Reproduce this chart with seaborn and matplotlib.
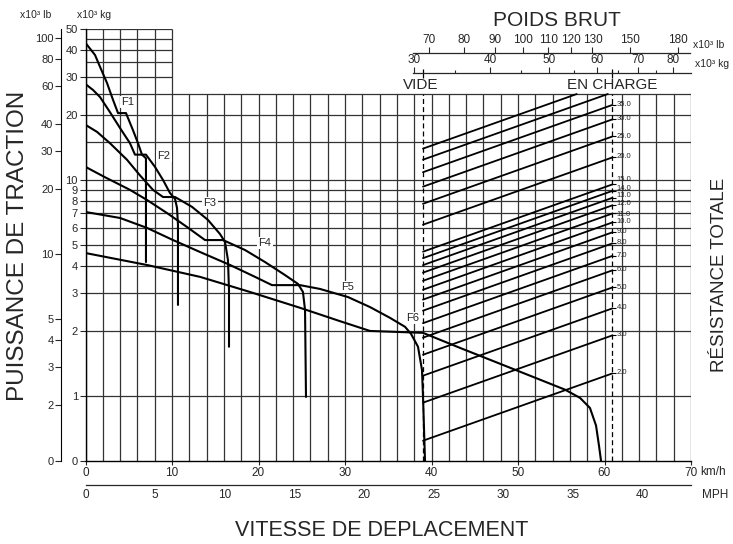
import numpy as np
import matplotlib
matplotlib.use("Agg")
import matplotlib.pyplot as plt
from matplotlib.ticker import FixedLocator, NullLocator, NullFormatter
import seaborn as sns

# ---- traction curves (speed km/h, rimpull x10^3 kg) ----
f1_speed = [0, 1.10, 1.68, 2.49, 3.18, 3.76, 4.68, 5.49, 6.07, 6.53, 6.99, 6.99]
f1_force = [43.1, 37.9, 33.4, 28.1, 23.5, 20.4, 20.4, 17.0, 14.8, 13.1, 12.6, 4.17]
f2_speed = [0, 0.87, 1.68, 2.83, 3.99, 5.14, 5.72, 6.99, 8.03, 8.96, 9.77, 10.35, 10.58, 10.69, 10.69]
f2_force = [27.8, 26.1, 24.2, 20.6, 17.4, 14.8, 13.1, 13.1, 11.5, 10.0, 8.7, 8.17, 7.43, 6.19, 2.64]
f3_speed = [0, 1.33, 2.83, 4.80, 6.30, 7.80, 8.96, 10.35, 12.31, 14.16, 15.55, 16.13, 16.47, 16.59, 16.59]
f3_force = [18.0, 16.7, 14.8, 12.4, 10.5, 9.0, 8.34, 8.34, 7.51, 6.53, 5.62, 5.16, 4.26, 3.09, 1.69]
f4_speed = [0, 2.25, 5.14, 7.11, 9.42, 11.73, 13.82, 15.90, 18.44, 20.75, 23.06, 24.57, 25.14, 25.38, 25.49]
f4_force = [11.5, 10.3, 9.0, 8.08, 7.03, 6.06, 5.27, 5.27, 4.74, 4.17, 3.63, 3.30, 3.03, 2.50, 0.99]
f5_speed = [0, 3.99, 7.11, 10.12, 13.24, 16.71, 19.60, 21.56, 24.80, 27.11, 30.35, 32.89, 35.20,
            36.94, 37.63, 38.44, 38.90, 39.02, 39.25]
f5_force = [7.11, 6.67, 6.00, 5.27, 4.64, 4.04, 3.56, 3.26, 3.26, 3.13, 2.87, 2.58, 2.30,
            2.09, 1.94, 1.69, 1.32, 0.99, 0.50]
f6_speed = [0, 7.11, 13.24, 19.02, 24.80, 29.42, 32.89, 39.02, 43.29, 47.92, 52.54, 55.43,
            57.17, 58.32, 59.02, 59.36, 59.60]
f6_force = [4.59, 4.04, 3.56, 3.03, 2.56, 2.22, 2.00, 1.96, 1.67, 1.41, 1.19, 1.07,
            0.98, 0.88, 0.73, 0.59, 0.50]

gear_names = ["F1", "F2", "F3", "F4", "F5", "F6"]
label_speed = [4.91, 9.08, 14.39, 20.75, 30.35, 37.86]
label_force = [23.0, 12.9, 7.82, 5.11, 3.20, 2.30]

# ---- total resistance nomogram ----
grades = [2, 3, 4, 5, 6, 7, 8, 9, 10, 11, 12, 13, 14, 15, 20, 25, 30, 35, 40, 45]
labelled_grades = [2, 3, 4, 5, 6, 7, 8, 9, 10, 11, 12, 13, 14, 15, 20, 25, 30, 35]
weight_empty = 31.04    # x10^3 kg (VIDE)
weight_loaded = 63.6    # x10^3 kg (EN CHARGE)
# small vertical nudges (points) of the crowded grade labels
label_nudge = {15: 3.5, 14: 1.6, 13: 1.2, 12: 0.8, 11: -0.8, 10: 0.6}

# axis scales
kg_ticks = [0.5, 1, 2, 3, 4, 5, 6, 7, 8, 9, 10, 20, 30, 40, 50]
kg_labels = ["0", "1", "2", "3", "4", "5", "6", "7", "8", "9", "10", "20", "30", "40", "50"]
lb_ticks = [0.5 * 2.20462, 2, 3, 4, 5, 10, 20, 30, 40, 60, 80, 100]
lb_labels = ["0", "2", "3", "4", "5", "10", "20", "30", "40", "60", "80", "100"]
top_kg_ticks = [30, 40, 50, 60, 70, 80]
top_kg_minor = [35, 45, 55, 65, 75]
top_lb_ticks = [70, 80, 90, 100, 110, 120, 130, 150, 180]
mph_ticks = [0, 5, 10, 15, 20, 25, 30, 35, 40]
kmh_ticks = [0, 10, 20, 30, 40, 50, 60, 70]

speed_grid = np.arange(0, 72, 2)
force_grid_main = [1, 2, 3, 4, 5, 6, 7, 8, 9, 10, 15, 20, 25]
force_grid_upper = [30, 35, 40, 45, 50]

# weight scale limits matching the speed axis (log scale)
W0, W1 = 8.647, 85.64

sns.set_style("white")
plt.rcParams["font.family"] = ["Liberation Sans", "DejaVu Sans"]

FW, FH = 733, 544
fig = plt.figure(figsize=(7.33, 5.44), dpi=100)
L, B, W, H = 85.5 / FW, 83 / FH, 605.5 / FW, 432 / FH

ax = fig.add_axes([L, B, W, H])
ax.set_yscale("log")
ax.set_xlim(0, 70)
ax.set_ylim(0.5, 50)

gc = "#333333"
ax.vlines(speed_grid, 0.5, 25, color=gc, lw=0.9)
ax.vlines(speed_grid[speed_grid <= 10], 25, 50, color=gc, lw=0.9)
ax.hlines(force_grid_main, 0, 70, color=gc, lw=0.9)
ax.hlines(force_grid_upper, 0, 10, color=gc, lw=0.9)

curves = [(f1_speed, f1_force), (f2_speed, f2_force), (f3_speed, f3_force),
          (f4_speed, f4_force), (f5_speed, f5_force), (f6_speed, f6_force)]
for sp, fo in curves:
    sns.lineplot(x=sp, y=fo, sort=False, estimator=None, ax=ax, color="black", lw=1.5)

for name, xs, ys in zip(gear_names, label_speed, label_force):
    ax.text(xs, ys, name, fontsize=8, ha="center", va="center",
            bbox=dict(facecolor="white", edgecolor="none", pad=0.8))

ax.spines[["top", "right"]].set_visible(False)
for s in ["left", "bottom"]:
    ax.spines[s].set_color("black")
    ax.spines[s].set_linewidth(1.0)
ax.yaxis.set_major_locator(FixedLocator(kg_ticks))
ax.set_yticklabels(kg_labels)
ax.yaxis.set_minor_locator(NullLocator())
ax.set_xticks(kmh_ticks)
ax.set_xticklabels([str(v) for v in kmh_ticks])
ax.tick_params(axis="y", length=4, width=0.8, labelsize=8, pad=1.5, left=True)
ax.tick_params(axis="x", length=3, width=0.8, labelsize=8.5, pad=1.5, bottom=True)
ax.set_xlabel("")
ax.set_ylabel("")

# lb scale on the left
ax_lb = ax.twinx()
ax_lb.set_yscale("log")
ax_lb.set_ylim(0.5 * 2.20462, 50 * 2.20462)
ax_lb.yaxis.tick_left()
ax_lb.spines[["right", "top", "bottom"]].set_visible(False)
ax_lb.spines["left"].set_position(("outward", 17.6))
ax_lb.spines["left"].set_color("black")
ax_lb.yaxis.set_major_locator(FixedLocator(lb_ticks))
ax_lb.set_yticklabels(lb_labels)
ax_lb.yaxis.set_minor_locator(NullLocator())
ax_lb.tick_params(axis="y", length=4, width=0.8, labelsize=8, pad=1.5, left=True, right=False)

# grade lines overlay (log weight vs log resistance)
ax_g = fig.add_axes([L, B, W, H])
ax_g.set_xscale("log")
ax_g.set_yscale("log")
ax_g.set_xlim(W0, W1)
ax_g.set_ylim(0.5, 50)
ax_g.axis("off")
ax_g.patch.set_visible(False)
for g in grades:
    w_end = min(weight_loaded, 25 * 100 / g)
    wx = [weight_empty, w_end]
    ry = [g / 100 * weight_empty, g / 100 * w_end]
    sns.lineplot(x=wx, y=ry, ax=ax_g, color="black", lw=1.3, estimator=None, sort=False)
ax_g.vlines([weight_empty, weight_loaded], 0.5, 25, colors="black", lw=0.9,
            linestyles=(0, (4, 2.5)))
ax_g.vlines([weight_empty, weight_loaded], 29.7, 32.6, colors="black", lw=0.9)
for g in labelled_grades:
    r = g / 100 * weight_loaded
    ax_g.plot([weight_loaded], [r], ls="none", marker=1, ms=3, mew=0.8, color="black")
    ax_g.annotate(f"{g:.1f}", (weight_loaded, r), xytext=(3, 0.3 + label_nudge.get(g, 0)),
                  textcoords="offset points", fontsize=5.5, ha="left", va="center",
                  annotation_clip=False)
ax_g.text(weight_empty * 0.99, 27.6, "VIDE", fontsize=11, ha="center", va="center")
ax_g.text(weight_loaded, 27.6, "EN CHARGE", fontsize=11, ha="center", va="center")

# top weight scales
def weight_axis(ypix, lo, hi, ticks, bounds, minor=None):
    a = fig.add_axes([L, 1 - ypix / FH, W, 1e-6])
    a.set_xscale("log")
    a.set_xlim(lo, hi)
    a.patch.set_visible(False)
    a.spines[["left", "right", "bottom"]].set_visible(False)
    a.spines["top"].set_bounds(*bounds)
    a.spines["top"].set_linewidth(0.9)
    a.set_yticks([])
    a.xaxis.tick_top()
    a.xaxis.set_major_locator(FixedLocator(ticks))
    a.set_xticklabels([str(t) for t in ticks])
    a.xaxis.set_minor_locator(FixedLocator(minor) if minor else NullLocator())
    a.xaxis.set_minor_formatter(NullFormatter())
    a.tick_params(axis="x", which="major", length=4, width=0.8, labelsize=8.5, pad=1)
    a.tick_params(axis="x", which="minor", length=2, width=0.8)
    return a

weight_axis(73, W0, W1, top_kg_ticks, (29.9, 85.6), top_kg_minor)
weight_axis(53.3, W0 * 2.20462, W1 * 2.20462, top_lb_ticks, (66, 188))

# MPH scale
ax_mph = fig.add_axes([L, 1 - 485 / FH, W, 1e-6])
ax_mph.set_xlim(0, 70 / 1.609344)
ax_mph.patch.set_visible(False)
ax_mph.spines[["left", "right", "top"]].set_visible(False)
ax_mph.spines["bottom"].set_linewidth(0.9)
ax_mph.set_yticks([])
ax_mph.set_xticks(mph_ticks)
ax_mph.set_xticklabels([str(t) for t in mph_ticks])
ax_mph.tick_params(axis="x", direction="in", length=4, width=0.8, labelsize=8.5, pad=3)

# texts
fig.text(700 / FW, 1 - 472 / FH, "km/h", fontsize=8.5, ha="left", va="center")
fig.text(702 / FW, 1 - 495 / FH, "MPH", fontsize=8.5, ha="left", va="center")
fig.text(36 / FW, 1 - 15 / FH, "x10³ lb", fontsize=7.5, ha="center", va="center")
fig.text(94 / FW, 1 - 15 / FH, "x10³ kg", fontsize=7.5, ha="center", va="center")
fig.text(693 / FW, 1 - 45 / FH, "x10³ lb", fontsize=7.5, ha="left", va="center")
fig.text(695 / FW, 1 - 64 / FH, "x10³ kg", fontsize=7.5, ha="left", va="center")
fig.text(557 / FW, 1 - 20 / FH, "POIDS BRUT", fontsize=15, ha="center", va="center")
fig.text(382 / FW, 1 - 531 / FH, "VITESSE DE DEPLACEMENT", fontsize=15.5, ha="center", va="center")
fig.text(18 / FW, 1 - 246 / FH, "PUISSANCE DE TRACTION", fontsize=17.5, ha="center",
         va="center", rotation=90)
fig.text(719 / FW, 1 - 275 / FH, "RÉSISTANCE TOTALE", fontsize=13.5, ha="center",
         va="center", rotation=90)

fig.savefig("out.png", dpi=100)
